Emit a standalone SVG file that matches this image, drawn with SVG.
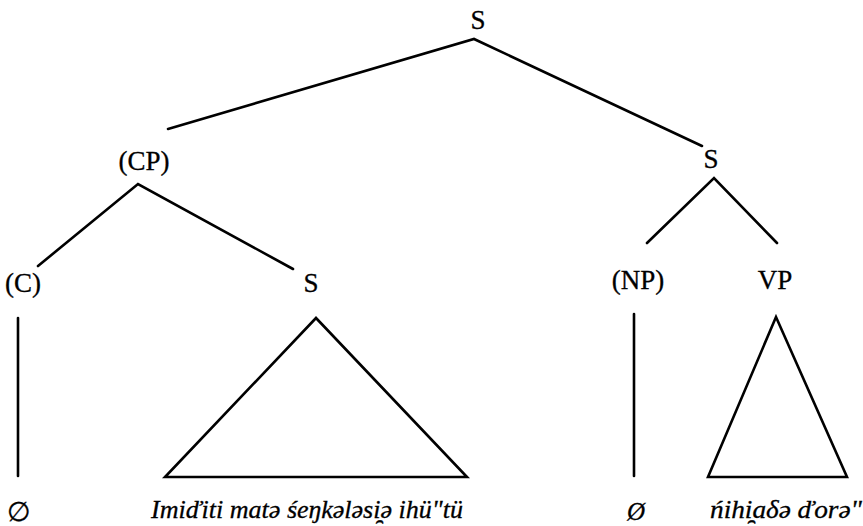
<svg xmlns="http://www.w3.org/2000/svg" width="863" height="526" viewBox="0 0 863 526">
<style>
.lbl{font-family:"Liberation Serif","Times New Roman",serif;font-size:27px;fill:#000;stroke:#000;stroke-width:0.3;text-anchor:middle}
.it{font-family:"Liberation Serif","Times New Roman",serif;font-size:25px;font-style:italic;fill:#000;stroke:#000;stroke-width:0.3}
.ln{stroke:#000;stroke-width:2.6;fill:none;stroke-linecap:round;stroke-linejoin:miter}
</style>
<rect width="863" height="526" fill="#fff"/>
<g id="connectors">
<polyline class="ln" points="168,129 474,39 702,146"/>
<polyline class="ln" points="38,266 138,184 293,269"/>
<polyline class="ln" points="647,243 714,178 777,243"/>
<line class="ln" x1="18" y1="318" x2="18" y2="476"/>
<line class="ln" x1="634" y1="314" x2="634" y2="476"/>
</g>
<g id="n-S-top"><text class="lbl" x="478" y="29">S</text></g>
<g id="n-CP"><text class="lbl" x="144" y="170">(CP)</text></g>
<g id="n-S-right"><text class="lbl" x="711" y="168">S</text></g>
<g id="n-C"><text class="lbl" x="23" y="292">(C)</text></g>
<g id="n-S-left"><text class="lbl" x="311" y="292">S</text></g>
<g id="n-NP"><text class="lbl" x="638" y="289">(NP)</text></g>
<g id="n-VP"><text class="lbl" x="775" y="289">VP</text></g>
<g id="tri-S"><polygon class="ln" points="316,318 165,477 467,477"/></g>
<g id="tri-VP"><polygon class="ln" points="776,317 708,477 847,477"/></g>
<g id="t-null-C"><text class="lbl" x="19" y="521">∅</text></g>
<g id="t-S-words"><text class="it" x="151" y="518" textLength="312" lengthAdjust="spacingAndGlyphs">Imiďiti  matə śeŋkələsi̯ə ihü"tü</text></g>
<g id="t-null-NP"><text class="it" x="636" y="520" text-anchor="middle">Ø</text></g>
<g id="t-VP-words"><text class="it" x="710" y="518" textLength="152" lengthAdjust="spacingAndGlyphs">ńihi̯aδə ďorə"</text></g>
</svg>
